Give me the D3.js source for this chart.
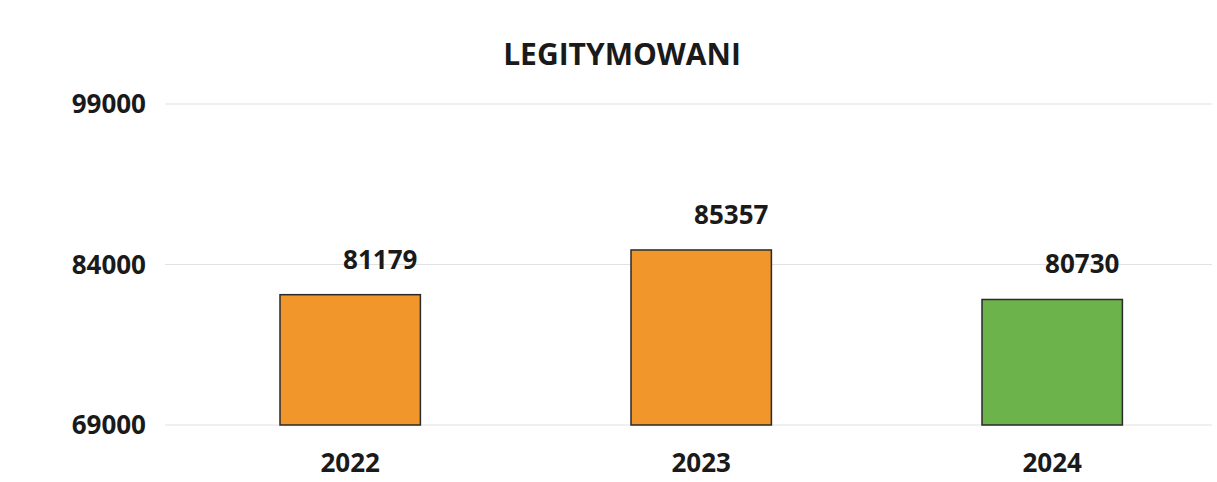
<!DOCTYPE html>
<html>
<head>
<meta charset="utf-8">
<script src="https://d3js.org/d3.v7.min.js"></script>
<style>
  body { margin: 0; background: #fff; }
  text { font-family: "Open Sans", sans-serif; font-weight: bold; fill: #1a1a1a; }
</style>
</head>
<body>
<div id="chart"></div>
<script>
// data
var years = ["2022", "2023", "2024"];
var values = [81179, 85357, 80730];
var barColors = ["#f0962b", "#f0962b", "#6db34c"];
var yTicks = [69000, 84000, 99000];

var width = 1217, height = 482;

var svg = d3.select("#chart")
  .append("svg")
    .attr("width", width)
    .attr("height", height);

// scales
var x = d3.scaleBand()
  .domain(years)
  .range([174.7, 1227.7])
  .paddingInner(0.6)
  .paddingOuter(0.3);

var y = d3.scaleLinear()
  .domain([69000, 99000])
  .range([425, 104]);

// gridlines
svg.append("g")
  .selectAll("line")
  .data(yTicks)
  .enter()
  .append("line")
    .attr("x1", 165)
    .attr("x2", 1212)
    .attr("y1", function(d) { return y(d); })
    .attr("y2", function(d) { return y(d); })
    .style("stroke", "#e2e2e2")
    .style("stroke-width", 1.2);

// y axis labels
svg.append("g")
  .selectAll("text")
  .data(yTicks)
  .enter()
  .append("text")
    .attr("x", 146)
    .attr("y", function(d) { return y(d) + 9; })
    .attr("text-anchor", "end")
    .style("font-size", "26px")
    .text(function(d) { return d; });

// title
svg.append("text")
  .attr("x", 622)
  .attr("y", 65)
  .attr("text-anchor", "middle")
  .style("font-size", "30px")
  .text("LEGITYMOWANI");

// bars
svg.append("g")
  .selectAll("rect")
  .data(values)
  .enter()
  .append("rect")
    .attr("x", function(d, i) { return x(years[i]); })
    .attr("y", function(d) { return y(d); })
    .attr("width", x.bandwidth())
    .attr("height", function(d) { return y(69000) - y(d); })
    .style("fill", function(d, i) { return barColors[i]; })
    .style("stroke", "#2a2a2a")
    .style("stroke-width", 1.5);

// value labels
svg.append("g")
  .selectAll("text")
  .data(values)
  .enter()
  .append("text")
    .attr("x", function(d, i) { return x(years[i]) + x.bandwidth() - 3; })
    .attr("y", function(d) { return y(d) - 26; })
    .attr("text-anchor", "end")
    .style("font-size", "26px")
    .text(function(d) { return d; });

// year labels
svg.append("g")
  .selectAll("text")
  .data(years)
  .enter()
  .append("text")
    .attr("x", function(d) { return x(d) + x.bandwidth() / 2; })
    .attr("y", 472)
    .attr("text-anchor", "middle")
    .style("font-size", "26px")
    .text(function(d) { return d; });
</script>
</body>
</html>
